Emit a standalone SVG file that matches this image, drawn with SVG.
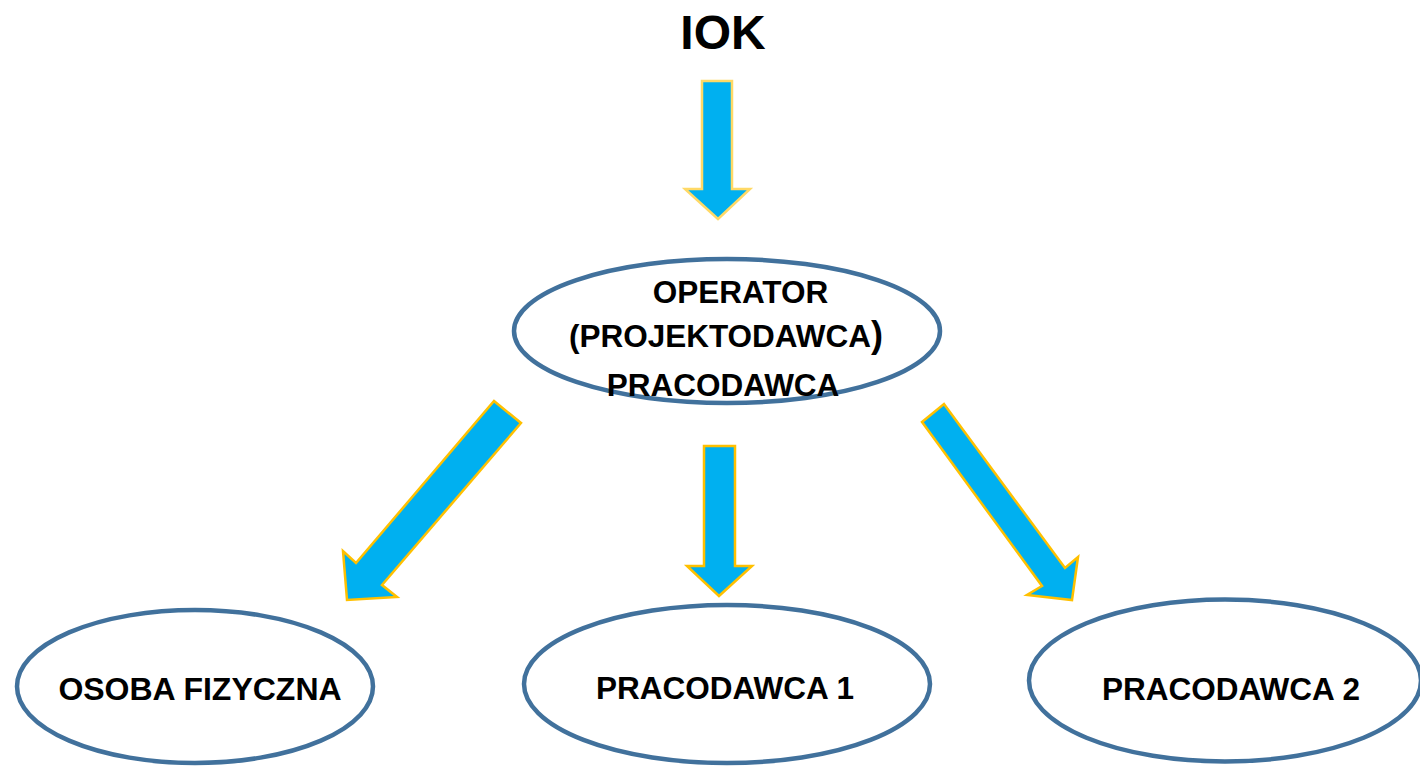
<svg xmlns="http://www.w3.org/2000/svg" width="1420" height="767" viewBox="0 0 1420 767">
<style>
.node ellipse{fill:#fff;stroke:#41719C;stroke-width:4.5}
.lbl{font-family:"Liberation Sans",Arial,sans-serif;font-weight:bold;fill:#000;text-anchor:middle}
.arr{fill:#00B0F0;stroke:#FFC000;stroke-width:2.5;stroke-linejoin:miter}
</style>
<rect width="1420" height="767" fill="#fff"/>
<g id="iok"><text class="lbl" x="723" y="49" font-size="48">IOK</text></g>
<g id="connectors">
<polygon class="arr" style="stroke:#FFD966" points="702,81 732,81 732,189 750,189 718,219 685,189 702,189"/>
<polygon class="arr" points="704,446 735,446 735,566 752,566 719,596 687,566 704,566"/>
<polygon class="arr" points="494,401 521,423 382,585 397,597 347,600 343,551 356,563"/>
<polygon class="arr" points="922,422 944,404 1065,568 1078,557 1072,600 1027,595 1042,586"/>
</g>
<g id="operator" class="node">
<ellipse cx="727" cy="331" rx="213" ry="72"/>
<text class="lbl" x="740.5" y="303" font-size="31.5">OPERATOR</text>
<text class="lbl" x="726" y="347" font-size="31.5">(PROJEKTODAWCA<tspan font-size="36">)</tspan></text>
<text class="lbl" x="723" y="396" font-size="31.5">PRACODAWCA</text>
</g>
<g id="osoba" class="node">
<ellipse cx="195" cy="686.5" rx="178" ry="76.5"/>
<text class="lbl" x="200" y="700" font-size="32">OSOBA FIZYCZNA</text>
</g>
<g id="pracodawca1" class="node">
<ellipse cx="727" cy="684" rx="203" ry="79"/>
<text class="lbl" x="725" y="699" font-size="31.5">PRACODAWCA 1</text>
</g>
<g id="pracodawca2" class="node">
<ellipse cx="1225" cy="680.5" rx="196" ry="81"/>
<text class="lbl" x="1231" y="700" font-size="31.5">PRACODAWCA 2</text>
</g>
</svg>
